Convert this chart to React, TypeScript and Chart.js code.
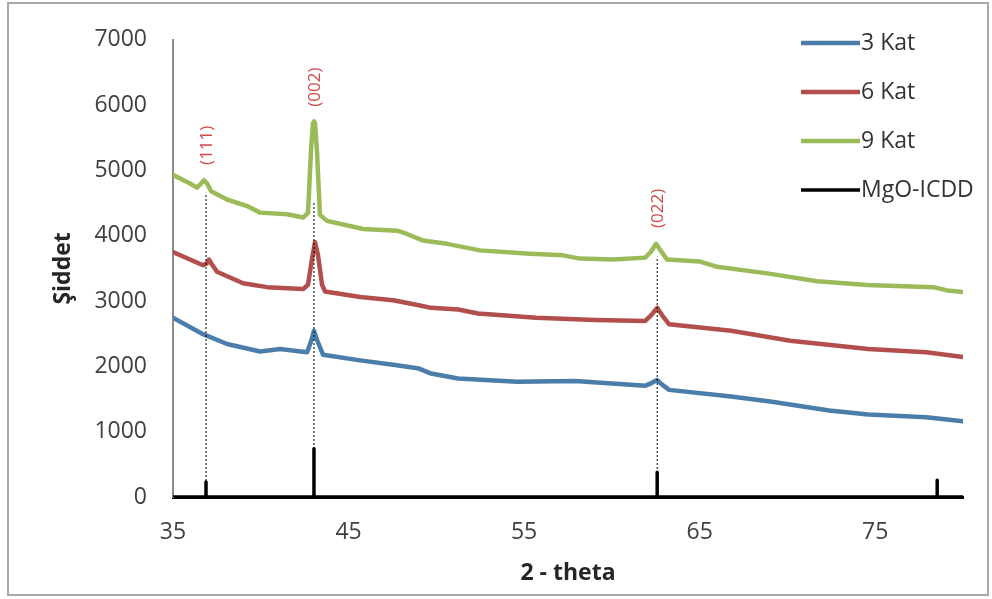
import React, { useEffect, useRef } from "react";
import { Chart, registerables } from "chart.js";

Chart.register(...registerables);

// ---- axis ticks ----
const xTickValues = [35, 45, 55, 65, 75];
const yTickValues = [0, 1000, 2000, 3000, 4000, 5000, 6000, 7000];

// ---- series labels ----
const seriesLabels = ["3 Kat", "6 Kat", "9 Kat", "MgO-ICDD"];
const seriesColors = ["#4b7dab", "#b24f4c", "#9bbb59", "#000000"];

// ---- 3 Kat ----
const kat3X = [35.0, 36.71, 38.08, 39.96, 41.1, 42.64, 42.86, 43.03, 43.21, 43.55, 45.66, 47.54, 49.02, 49.7, 51.24, 54.6, 57.91, 61.9, 62.23, 62.58, 62.86, 63.26, 66.79, 69.02, 72.38, 74.6, 77.91, 80.0];
const kat3Y = [2745, 2493, 2343, 2228, 2267, 2217, 2380, 2544, 2400, 2177, 2092, 2026, 1966, 1890, 1815, 1765, 1775, 1704, 1740, 1790, 1720, 1640, 1538, 1463, 1323, 1262, 1222, 1161];

// ---- 6 Kat ----
const kat6X = [35.0, 36.71, 36.94, 37.05, 37.22, 37.51, 38.99, 40.36, 42.41, 42.69, 42.92, 43.09, 43.26, 43.49, 43.66, 45.66, 47.54, 49.07, 49.7, 51.24, 52.38, 55.68, 59.05, 61.9, 62.23, 62.58, 62.92, 63.26, 66.79, 70.16, 74.6, 77.91, 80.0];
const kat6Y = [3751, 3549, 3580, 3635, 3560, 3449, 3273, 3213, 3183, 3250, 3650, 3902, 3700, 3250, 3147, 3062, 3012, 2931, 2896, 2870, 2810, 2745, 2710, 2695, 2780, 2896, 2760, 2644, 2544, 2393, 2267, 2217, 2142];

// ---- 9 Kat ----
const kat9X = [35.0, 35.97, 36.37, 36.6, 36.77, 36.94, 37.17, 38.08, 39.22, 39.96, 41.5, 42.41, 42.69, 42.86, 42.97, 43.03, 43.09, 43.2, 43.37, 43.77, 45.83, 47.76, 48.33, 49.25, 50.61, 52.49, 55.34, 57.22, 58.19, 60.07, 61.9, 62.23, 62.52, 62.81, 63.15, 65.03, 66.0, 68.85, 71.7, 74.54, 78.3, 79.1, 80.0];
const kat9Y = [4932, 4800, 4736, 4800, 4850, 4800, 4680, 4555, 4454, 4354, 4329, 4279, 4350, 5300, 5720, 5750, 5720, 5300, 4320, 4228, 4103, 4077, 4027, 3926, 3876, 3776, 3725, 3700, 3650, 3635, 3665, 3760, 3876, 3760, 3635, 3605, 3524, 3424, 3303, 3247, 3213, 3163, 3137];

// ---- MgO-ICDD reference sticks ----
const icddX = [36.88, 43.03, 62.58, 78.53];
const icddY = [230, 740, 380, 255];

// ---- peak annotations ----
const peakLabels = ["(111)", "(002)", "(022)"];
const peakX = [36.88, 43.03, 62.58];
const peakLabelY = [5385, 6275, 4420];
const peakGuideTop = [4660, 4510, 3680];

const FONT = "'Open Sans', 'DejaVu Sans', sans-serif";

function pts(xs: number[], ys: number[]) {
  return xs.map((x, i) => ({ x, y: ys[i] }));
}

function icddPoints() {
  const out: { x: number; y: number }[] = [{ x: 35, y: 0 }];
  icddX.forEach((x, i) => {
    out.push({ x, y: 0 }, { x, y: icddY[i] }, { x, y: 0 });
  });
  out.push({ x: 80, y: 0 });
  return out;
}

const overlayPlugin = {
  id: "overlay",
  beforeDraw(chart: any) {
    const ctx = chart.ctx;
    ctx.save();
    ctx.fillStyle = "#ffffff";
    ctx.fillRect(0, 0, chart.width, chart.height);
    ctx.strokeStyle = "#a8a8a8";
    ctx.lineWidth = 2;
    ctx.strokeRect(8, 3, 980, 592);
    ctx.restore();
  },
  afterDraw(chart: any) {
    const ctx = chart.ctx;
    const xs = chart.scales.x;
    const ys = chart.scales.y;
    // peak labels
    ctx.save();
    ctx.fillStyle = "#cf4a48";
    ctx.font = `17px ${FONT}`;
    ctx.textAlign = "center";
    ctx.textBaseline = "middle";
    peakLabels.forEach((t, i) => {
      ctx.save();
      ctx.translate(xs.getPixelForValue(peakX[i]) + 1, ys.getPixelForValue(peakLabelY[i]));
      ctx.rotate(-Math.PI / 2);
      ctx.fillText(t, 0, 0);
      ctx.restore();
    });
    ctx.restore();
    // legend
    ctx.save();
    ctx.font = `23px ${FONT}`;
    ctx.textAlign = "left";
    ctx.textBaseline = "middle";
    const rows = [43, 92, 141, 190];
    seriesLabels.forEach((lab, i) => {
      const ds = chart.data.datasets.find((d: any) => d.label === lab);
      if (!ds) return;
      const y = rows[i];
      ctx.strokeStyle = ds.borderColor;
      ctx.lineWidth = ds.borderWidth;
      ctx.lineCap = "butt";
      ctx.beginPath();
      ctx.moveTo(801, y);
      ctx.lineTo(860, y);
      ctx.stroke();
      ctx.fillStyle = "#333333";
      ctx.fillText(lab, 861, y);
    });
    ctx.restore();
  },
};

export default function App() {
  const ref = useRef<HTMLCanvasElement | null>(null);

  useEffect(() => {
    document.body.style.margin = "0";
    const canvas = ref.current;
    if (!canvas) return;

    const guideSets = peakX.map((x, i) => ({
      label: "guide" + i,
      data: [
        { x, y: 0 },
        { x, y: peakGuideTop[i] },
      ],
      borderColor: "#000000",
      borderWidth: 1,
      borderDash: [2, 2],
      pointRadius: 0,
      tension: 0,
    }));

    const mk = (label: string, color: string, data: any[], width: number) => ({
      label,
      data,
      borderColor: color,
      backgroundColor: color,
      borderWidth: width,
      pointRadius: 0,
      tension: 0,
      borderJoinStyle: "round" as const,
      borderCapStyle: "round" as const,
    });

    const chart = new Chart(canvas, {
      type: "line",
      data: {
        datasets: [
          ...guideSets,
          mk(seriesLabels[0], seriesColors[0], pts(kat3X, kat3Y), 4.5),
          mk(seriesLabels[1], seriesColors[1], pts(kat6X, kat6Y), 4.5),
          mk(seriesLabels[2], seriesColors[2], pts(kat9X, kat9Y), 4.5),
          mk(seriesLabels[3], seriesColors[3], icddPoints(), 3.5),
        ],
      },
      options: {
        animation: false,
        responsive: false,
        layout: { padding: { left: 0, right: 29, top: 33, bottom: 0 } },
        plugins: {
          legend: { display: false },
          tooltip: { enabled: false },
        },
        scales: {
          x: {
            type: "linear",
            min: 35,
            max: 80,
            afterFit: (s: any) => {
              s.height = 102;
            },
            afterBuildTicks: (s: any) => {
              s.ticks = xTickValues.map((v) => ({ value: v }));
            },
            grid: { display: false, drawTicks: false },
            border: { display: true, color: "#000000", width: 3 },
            ticks: {
              padding: 22,
              color: "#404040",
              font: { family: FONT, size: 23 },
              maxRotation: 0,
              callback: (v: any) => String(v),
            },
            title: {
              display: true,
              text: "2 - theta",
              color: "#262626",
              font: { family: FONT, size: 23, weight: "bold" },
              padding: { top: 0, bottom: 12 },
            },
          },
          y: {
            type: "linear",
            min: 0,
            max: 7000,
            afterFit: (s: any) => {
              s.width = 173;
            },
            afterBuildTicks: (s: any) => {
              s.ticks = yTickValues.map((v) => ({ value: v }));
            },
            grid: { display: false, drawTicks: false },
            border: { display: true, color: "#8c8c8c", width: 2 },
            ticks: {
              padding: 26,
              color: "#404040",
              font: { family: FONT, size: 23 },
              callback: (v: any) => String(v),
            },
            title: {
              display: true,
              text: "Şiddet",
              color: "#262626",
              font: { family: FONT, size: 23, weight: "bold" },
              padding: { top: 50, bottom: 0 },
            },
          },
        },
      },
      plugins: [overlayPlugin],
    });

    return () => chart.destroy();
  }, []);

  return (
    <div style={{ width: 992, height: 599 }}>
      <canvas ref={ref} width={992} height={599} style={{ display: "block" }} />
    </div>
  );
}
